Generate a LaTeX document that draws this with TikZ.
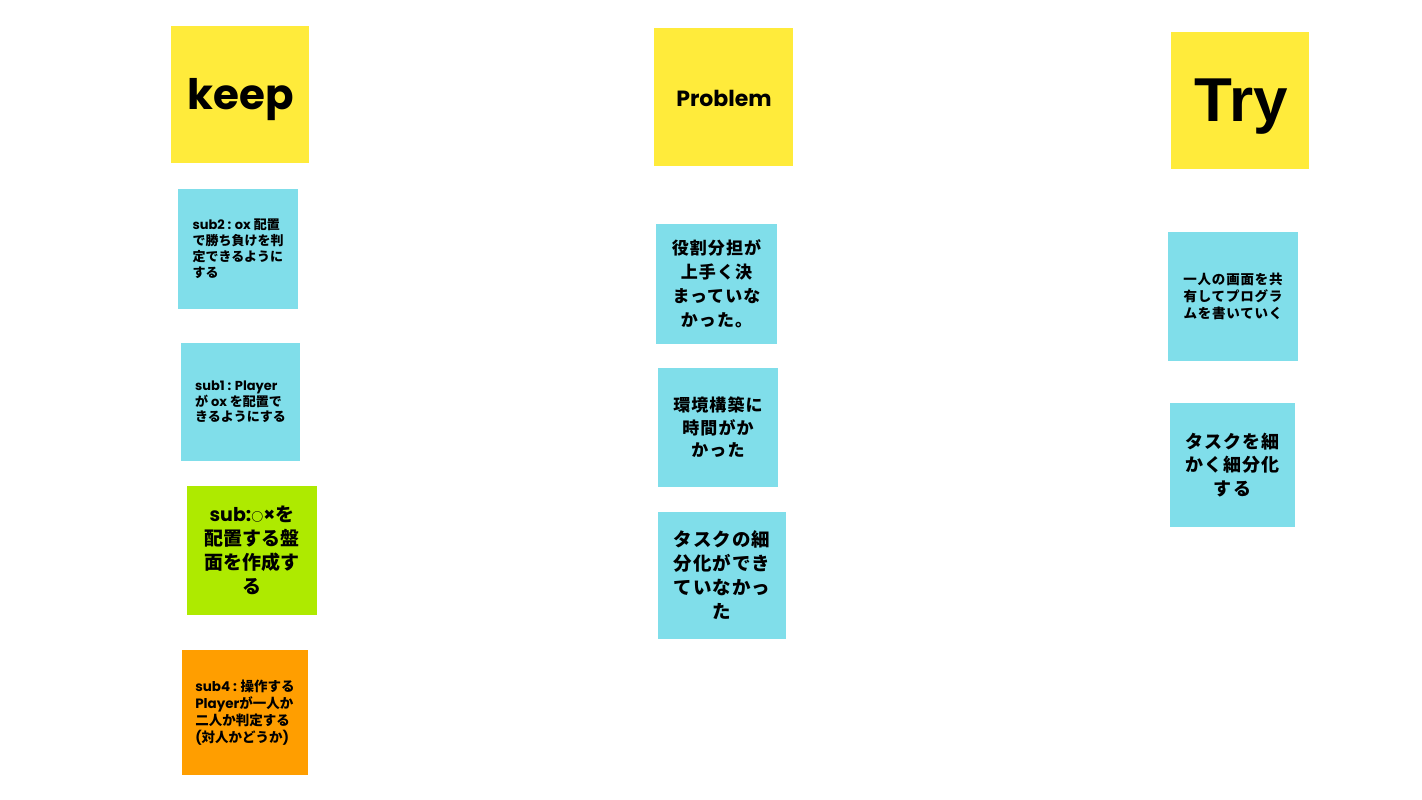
\documentclass[tikz,border=0pt]{standalone}
\usepackage{fontspec}
\newfontfamily\jp{Noto Sans CJK JP}
\newfontfamily\jpw{Noto Sans CJK JP}[LetterSpace=6]
\newfontfamily\lat{Poppins}
\newfontfamily\helv{Liberation Sans}
\newcommand\latx[1]{{\lat\bfseries #1}}
\definecolor{hdr}{HTML}{FFEB3B}
\definecolor{cy}{HTML}{80DEEA}
\definecolor{gr}{HTML}{AEEA00}
\definecolor{og}{HTML}{FF9E00}
\begin{document}
\begin{tikzpicture}[x=1pt,y=-1pt,
  note/.style={inner sep=0pt, outer sep=0pt, text=black},
  hdrnote/.style={note, fill=hdr},
  cynote/.style={note, fill=cy},
  small/.style={font=\fontsize{13}{16}\selectfont\jp\bfseries},
  big/.style={font=\fontsize{17}{24}\selectfont\jpw\bfseries}]
\useasboundingbox (0,0) rectangle (1422,800);
\fill[white] (0,0) rectangle (1422,800);
% headers
\node[hdrnote, minimum width=138pt, minimum height=137pt] (keep) at (240,94.5) {};
\node[note, font=\fontsize{42}{46}\selectfont\lat\bfseries] (keept) at (240.5,100) {keep};
\node[hdrnote, minimum width=139pt, minimum height=138pt] (prob) at (723.5,97) {};
\node[note, font=\fontsize{22}{26}\selectfont\lat\bfseries] (probt) at (724,98) {Problem};
\node[hdrnote, minimum width=138pt, minimum height=137pt] (try) at (1240,100.5) {};
\node[note, font=\fontsize{62}{66}\selectfont\helv\bfseries] (tryt) at (1241.5,107) {Try};
% keep column
\node[cynote, small, align=left, minimum width=120pt, minimum height=120pt] (k2) at (238,249)
  {\latx{sub2 : ox} 配置\\で勝ち負けを判\\定できるように\\する};
\node[cynote, small, align=left, minimum width=119pt, minimum height=118pt,
  font=\fontsize{13}{15.5}\selectfont\jp\bfseries] (k1) at (240.5,402)
  {\latx{sub1 : Player}\\が \latx{ox} を配置で\\きるようにする};
\node[note, fill=gr, align=center, minimum width=130pt, minimum height=129pt,
  font=\fontsize{19}{24}\selectfont\jp\bfseries] (k0) at (252,550.5)
  {\latx{sub:}{\fontsize{12}{12}\selectfont ○}\latx{×}を\\配置する盤\\面を作成す\\る};
\node[note, fill=og, align=left, minimum width=126pt, minimum height=125pt,
  font=\fontsize{13.5}{17}\selectfont\jp\bfseries] (k4) at (245,712.5)
  {\latx{sub4 : }操作する\\\latx{Player}が一人か\\二人か判定する\\\latx{(}対人かどうか\latx{)}};
% problem column
\node[cynote, big, align=center, minimum width=121pt, minimum height=120pt] (p1) at (716.5,284)
  {役割分担が\\上手く決\\まっていな\\かった。};
\node[cynote, big, align=center, minimum width=120pt, minimum height=119pt,
  font=\fontsize{17}{22.5}\selectfont\jpw\bfseries] (p2) at (718,427.5)
  {環境構築に\\時間がか\\かった};
\node[cynote, align=center, minimum width=128pt, minimum height=127pt,
  font=\fontsize{18.5}{24}\selectfont\jpw\bfseries] (p3) at (722,575.5)
  {タスクの細\\分化ができ\\ていなかっ\\た};
% try column
\node[cynote, align=center, minimum width=130pt, minimum height=129pt,
  font=\fontsize{13.5}{17}\selectfont\jpw\bfseries] (t1) at (1233,296.5)
  {一人の画面を共\\有してプログラ\\ムを書いていく};
\node[cynote, align=center, minimum width=125pt, minimum height=124pt,
  font=\fontsize{18}{23.5}\selectfont\jpw\bfseries] (t2) at (1232.5,465)
  {タスクを細\\かく細分化\\する};
\end{tikzpicture}
\end{document}
